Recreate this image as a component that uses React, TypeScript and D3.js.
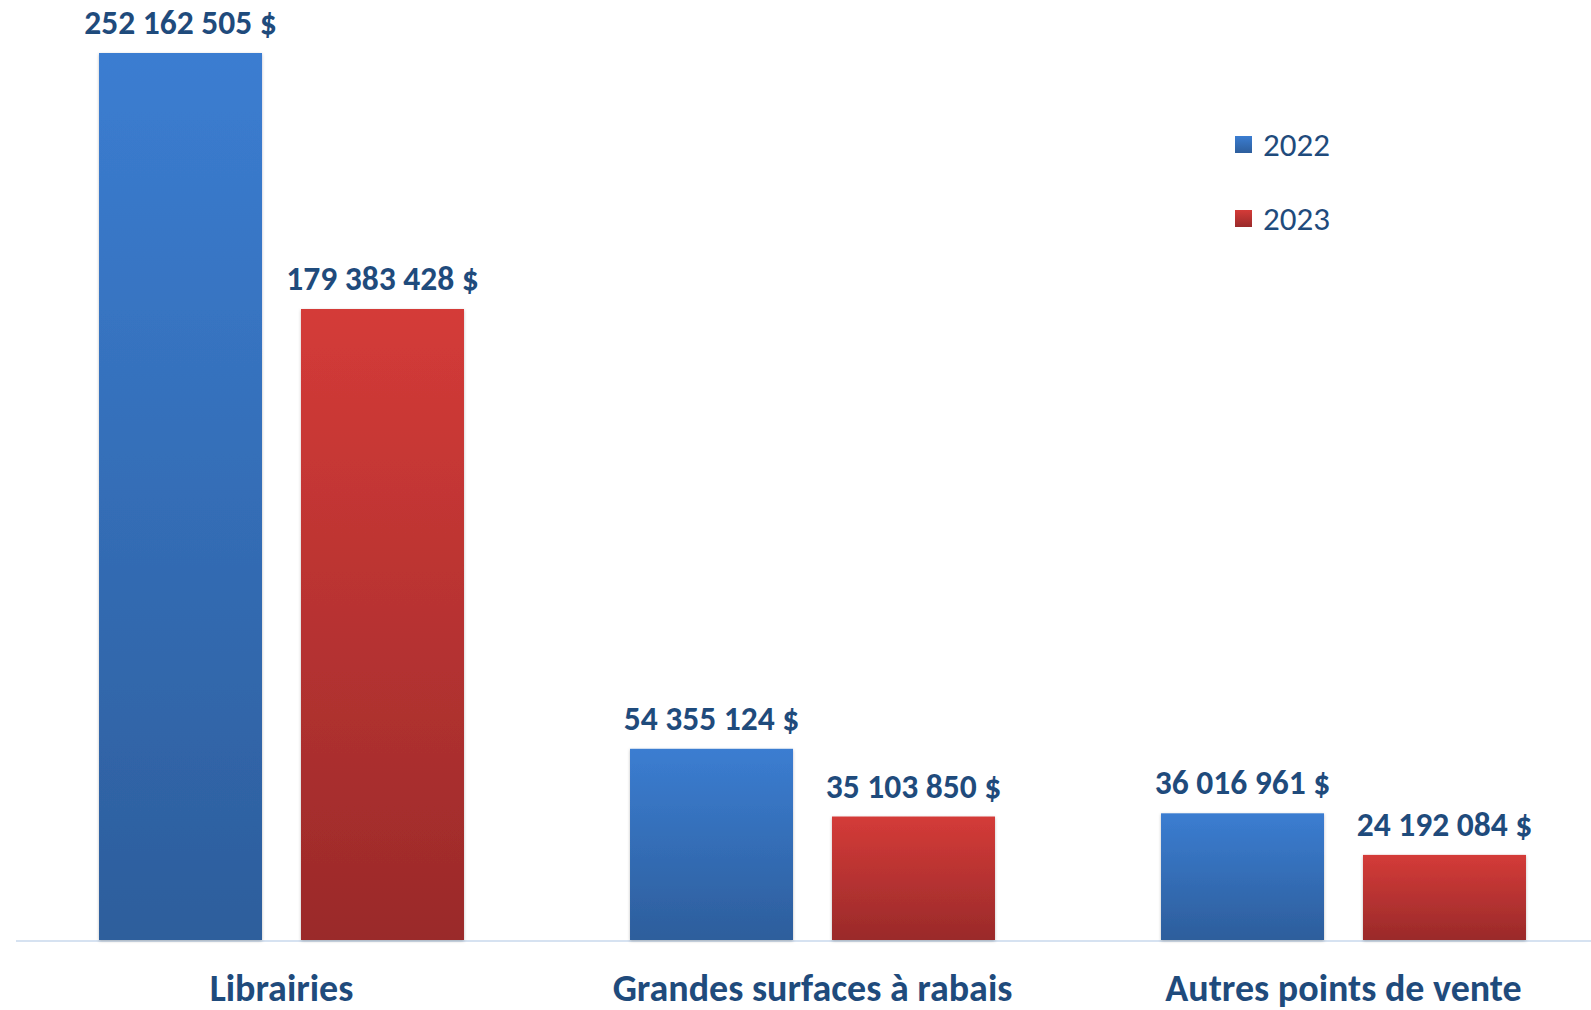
import React, { useEffect, useRef } from "react";
import * as d3 from "d3";

// values
const categories = ["Librairies", "Grandes surfaces à rabais", "Autres points de vente"];
const years = ["2022", "2023"];
const sales2022 = [252162505, 54355124, 36016961];
const sales2023 = [179383428, 35103850, 24192084];

const W = 1591, H = 1010;
const TEXT = "#1f4b7c";
const FONT = "Carlito, Calibri, Lato, 'Open Sans', sans-serif";

const fmt = (v: number) => d3.format(",")(v).replace(/,/g, " ") + " $";

export default function App() {
  const ref = useRef<SVGSVGElement | null>(null);
  useEffect(() => {
    const node = ref.current; if (!node) return;
    const svg = d3.select(node);
    svg.selectAll("*").remove();
    const base = 940, top = 53;
    const series = [sales2022, sales2023];
    const x0 = d3.scaleBand().domain(categories).range([16, 1609]);
    const x1 = d3.scaleBand().domain(years).range([0, x0.bandwidth()]).paddingInner(0.193).paddingOuter(0.411);
    const y = d3.scaleLinear().domain([0, d3.max(sales2022) as number]).range([base, top]);

    const defs = svg.append("defs");
    const grads = [["#3b7dd1", "#2d5e9c"], ["#d43b38", "#9a2a2a"]];
    grads.forEach((c, i) => {
      const g = defs.append("linearGradient").attr("id", `g${i}`).attr("x1", 0).attr("y1", 0).attr("x2", 0).attr("y2", 1);
      g.append("stop").attr("offset", "0%").attr("stop-color", c[0]);
      g.append("stop").attr("offset", "100%").attr("stop-color", c[1]);
    });
    const f = defs.append("filter").attr("id", "sh").attr("x", "-10%").attr("y", "-10%").attr("width", "120%").attr("height", "120%");
    f.append("feDropShadow").attr("dx", 0).attr("dy", 1).attr("stdDeviation", 1.5).attr("flood-color", "#000").attr("flood-opacity", 0.25);

    // baseline
    svg.append("line").attr("x1", 16).attr("x2", W).attr("y1", base + 1).attr("y2", base + 1)
      .attr("stroke", "#c9d9ec").attr("stroke-width", 1.5);

    const groups = svg.append("g").selectAll("g").data(categories).join("g")
      .attr("transform", (d) => `translate(${x0(d)},0)`);
    years.forEach((yr, si) => {
      groups.append("rect")
        .attr("x", x1(yr) as number).attr("width", x1.bandwidth())
        .attr("y", (_d, i) => y(series[si][i])).attr("height", (_d, i) => base - y(series[si][i]))
        .attr("fill", `url(#g${si})`).attr("filter", "url(#sh)");
      groups.append("text")
        .attr("x", (x1(yr) as number) + x1.bandwidth() / 2)
        .attr("y", (_d, i) => y(series[si][i]) - 19)
        .attr("text-anchor", "middle").attr("font-family", FONT).attr("font-weight", 700)
        .attr("font-size", 33.5).attr("fill", TEXT)
        .text((_d, i) => fmt(series[si][i]));
    });

    // category labels
    svg.append("g").selectAll("text").data(categories).join("text")
      .attr("x", (d) => (x0(d) as number) + x0.bandwidth() / 2).attr("y", 1001)
      .attr("text-anchor", "middle").attr("font-family", FONT).attr("font-weight", 700)
      .attr("font-size", 38).attr("fill", TEXT).text((d) => d);

    // legend
    const lg = svg.append("g").attr("transform", "translate(1235,136)");
    years.forEach((yr, i) => {
      const row = lg.append("g").attr("transform", `translate(0,${i * 74})`);
      row.append("rect").attr("width", 17).attr("height", 17).attr("fill", `url(#g${i})`);
      row.append("text").attr("x", 28).attr("y", 8.5).attr("dy", "0.36em")
        .attr("font-family", FONT).attr("font-size", 33).attr("fill", TEXT).text(yr);
    });
  }, []);
  return <svg ref={ref} width={W} height={H} viewBox={`0 0 ${W} ${H}`}
    style={{ position: "absolute", left: 0, top: 0, background: "#fff" }} />;
}
